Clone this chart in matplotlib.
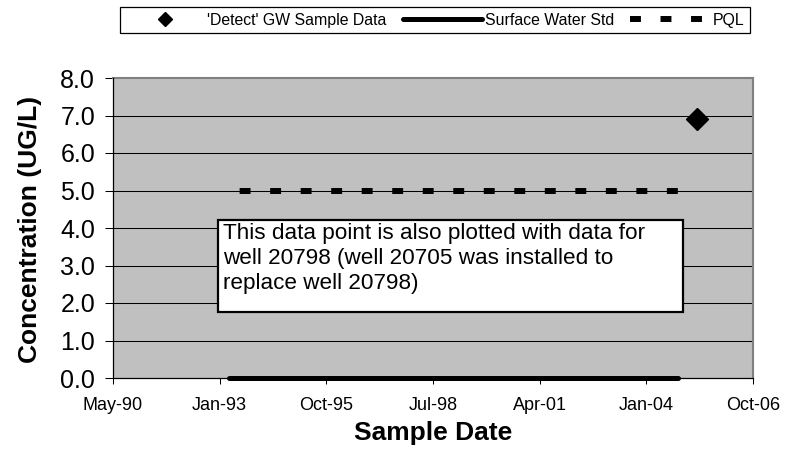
import numpy as np
import matplotlib

matplotlib.use("Agg")
import matplotlib.pyplot as plt
from matplotlib.lines import Line2D
from matplotlib.patches import Rectangle

plt.rcParams["font.family"] = ["Liberation Sans", "DejaVu Sans"]

# --- data ---
gw_dates = np.array(["2005-05-03"], dtype="datetime64[D]")
gw_values = [6.9]

sws_dates = np.array(["1993-04-29", "2004-11-06"], dtype="datetime64[D]")
sws_values = [0.0, 0.0]

pql_dates = np.array(["1993-04-29", "2004-11-25"], dtype="datetime64[D]")
pql_values = [5.0, 5.0]

# Excel serial day numbers used as major ticks (1000 day step)
tick_serials = [33000, 34000, 35000, 36000, 37000, 38000, 39000]
tick_labels = ["May-90", "Jan-93", "Oct-95", "Jul-98", "Apr-01", "Jan-04", "Oct-06"]
y_ticks = [0, 1, 2, 3, 4, 5, 6, 7, 8]

note = ("This data point is also plotted with data for\n"
        "well 20798 (well 20705 was installed to\n"
        "replace well 20798)")

W, H = 795, 463
fig = plt.figure(figsize=(W / 100, H / 100), dpi=100)
fig.patch.set_facecolor("white")

# plot area in pixels: x 113..753, y 78..378
ax = fig.add_axes([113 / W, 1 - 378 / H, 640 / W, 300 / H])
ax.set_facecolor("#C0C0C0")

tick_dates = np.datetime64("1899-12-30") + np.array(tick_serials).astype("timedelta64[D]")

for yv in y_ticks[1:-1]:
    ax.axhline(yv, color="black", lw=0.75, zorder=1)

dash_lw = 4.3
ax.plot(pql_dates, pql_values, color="black", lw=dash_lw,
        linestyle=(3.33, (1.83, 3.28)), dash_capstyle="butt", zorder=3)
ax.plot(sws_dates, sws_values, color="black", lw=3.6,
        solid_capstyle="round", zorder=3, clip_on=False)
ax.plot(gw_dates, gw_values, linestyle="none", marker="D", ms=11.5,
        color="black", zorder=4)

ax.set_xlim(tick_dates[0], tick_dates[-1])
ax.set_ylim(0, 8)
ax.set_xticks(tick_dates)
ax.set_xticklabels(tick_labels)
ax.set_yticks(y_ticks)
ax.set_yticklabels([f"{v:.1f}" for v in y_ticks])
ax.tick_params(axis="x", direction="out", length=4.5, width=0.75,
               labelsize=13, pad=9)
ax.tick_params(axis="y", direction="out", length=5.8, width=0.75,
               labelsize=18, pad=7)

for side in ("top", "right"):
    ax.spines[side].set_color("#808080")
    ax.spines[side].set_linewidth(1.5)
for side in ("left", "bottom"):
    ax.spines[side].set_color("black")
    ax.spines[side].set_linewidth(0.9)
    ax.spines[side].set_zorder(5)

# note box
x0 = (218 - 113) / 640
x1 = (683 - 113) / 640
y1 = (378 - 220) / 300
y0 = (378 - 312) / 300
ax.add_patch(Rectangle((x0, y0), x1 - x0, y1 - y0, transform=ax.transAxes,
                       facecolor="white", edgecolor="black", lw=1.6, zorder=6))
ax.text((223 - 113) / 640, (378 - 223) / 300, note, transform=ax.transAxes,
        ha="left", va="top", fontsize=16.2, linespacing=1.26, zorder=7)

fig.text(30 / W, 1 - 229 / H, "Concentration (UG/L)", rotation=90,
         ha="center", va="center", fontsize=19, fontweight="bold")
fig.text(433 / W, 1 - 433 / H, "Sample Date", ha="center", va="center",
         fontsize=19, fontweight="bold")

handles = [
    Line2D([], [], linestyle="none", marker="D", ms=7, color="black"),
    Line2D([], [], color="black", lw=3.6, solid_capstyle="round"),
    Line2D([], [], color="black", lw=dash_lw, linestyle=(0, (1.83, 3.28)),
           dash_capstyle="butt"),
]
leg = fig.legend(handles, ["'Detect' GW Sample Data", "Surface Water Std", "PQL"],
                 loc="upper center", bbox_to_anchor=(434.5 / W, 1 - 7 / H),
                 ncol=3, fontsize=11.4, frameon=True, fancybox=False,
                 edgecolor="black", framealpha=1, borderpad=0.35,
                 handlelength=5.0, handletextpad=0.2, columnspacing=1.0,
                 borderaxespad=0)
leg.get_frame().set_linewidth(0.9)

fig.savefig("out.png", dpi=100, facecolor="white")
